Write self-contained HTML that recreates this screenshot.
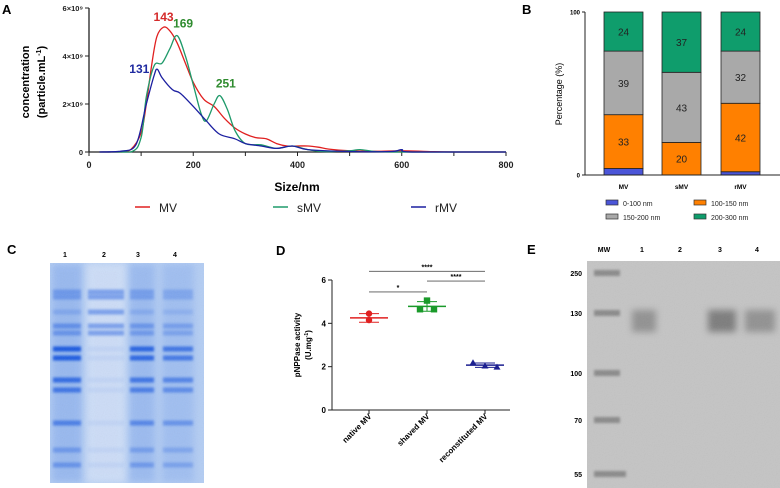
<!DOCTYPE html>
<html><head><meta charset="utf-8"><style>
html,body{margin:0;padding:0;background:#fff;}
svg{display:block;font-family:"Liberation Sans",Arial,sans-serif;}
</style></head><body>
<svg id="fig" width="780" height="488" viewBox="0 0 780 488" xmlns="http://www.w3.org/2000/svg">
<defs>
<filter id="blur1" x="-20%" y="-50%" width="140%" height="200%"><feGaussianBlur stdDeviation="1.2"/></filter>
<filter id="blur3" x="-30%" y="-80%" width="160%" height="260%"><feGaussianBlur stdDeviation="3.5"/></filter>
<filter id="noise" x="0" y="0" width="1" height="1"><feTurbulence type="fractalNoise" baseFrequency="0.9" numOctaves="2" result="n"/><feColorMatrix type="saturate" values="0"/><feComponentTransfer><feFuncA type="linear" slope="0.12"/></feComponentTransfer></filter>
<clipPath id="clipC"><rect x="50" y="263" width="154" height="220"/></clipPath>
<clipPath id="clipE"><rect x="587" y="261" width="193" height="227"/></clipPath>
</defs>
<g id="panelA"></g>
<g id="panelB"></g>
<g id="panelC"></g>
<g id="panelD"></g>
<g id="panelE"></g>
</svg>
<script>
// ---------- Panel A data ----------
const aXTicks = [0,200,400,600,800];
const aYTicks = [0,2,4,6];
const aYTickLabels = ["0","2×10⁹","4×10⁹","6×10⁹"];
const mvSizes = [20,60,80,100,110,120,130,143,155,169,185,200,220,240,260,280,300,320,340,360,380,400,420,440,460,500,550,600,650,700,800];
const mvValues = [0,0,0.1,0.8,2.0,3.6,4.8,5.2,5.05,4.55,3.7,2.9,2.2,1.9,1.4,1.0,0.75,0.6,0.55,0.35,0.25,0.25,0.25,0.2,0.12,0.05,0.03,0.05,0.02,0,0];
const smvSizes = [20,80,100,110,125,140,155,169,185,200,215,225,240,251,265,280,300,330,360,390,420,450,500,520,550,600,800];
const smvValues = [0,0,0.6,2.3,3.6,3.7,4.3,4.85,4.0,2.8,1.6,1.3,2.0,2.35,1.8,0.9,0.35,0.3,0.15,0.25,0.1,0.02,0.05,0.1,0.02,0,0];
const rmvSizes = [20,60,90,110,125,131,140,160,175,200,225,250,280,300,330,360,390,420,500,580,600,620,800];
const rmvValues = [0,0.03,0.3,2.0,3.2,3.45,3.1,2.6,2.45,1.9,1.3,0.75,0.55,0.35,0.25,0.15,0.25,0.1,0.02,0.02,0.1,0,0];
const aPeakLabels = [["143",143,5.2,"#d42a2a",0,-6],["169",169,4.85,"#2e8b2e",6,-8],["131",131,3.45,"#1f2aa0",-18,4],["251",251,2.35,"#2e8b2e",6,-8]];

// ---------- Panel B data ----------
const bCategories = ["MV","sMV","rMV"];
const bSeriesNames = ["0-100 nm","100-150 nm","150-200 nm","200-300 nm"];
const bSeries0 = [4,0,2];
const bSeries1 = [33,20,42];
const bSeries2 = [39,43,32];
const bSeries3 = [24,37,24];
const bYTicks = [0,100];

// ---------- Panel D data ----------
const dCategories = ["native MV","shaved MV","reconstituted MV"];
const dPoints0 = [4.45,4.15];
const dPoints1 = [5.05,4.65,4.65];
const dPoints2 = [2.18,2.03,1.98];
const dMeans = [4.25,4.78,2.07];
const dSD = [0.2,0.22,0.1];
const dYTicks = [0,2,4,6];
const dSig = [[0,2,"****",6.4],[1,2,"****",5.95],[0,1,"*",5.45]];

// ---------- Panel E data ----------
const eMWLabels = ["250","130","100","70","55"];
const eLaneLabels = ["MW","1","2","3","4"];

const NS="http://www.w3.org/2000/svg";
function mk(parent,tag,attrs,text){const e=document.createElementNS(NS,tag);for(const k in attrs)e.setAttribute(k,attrs[k]);if(text!==undefined)e.textContent=text;parent.appendChild(e);return e;}
function smooth(pts){let d="M"+pts[0][0]+","+pts[0][1];for(let i=0;i<pts.length-1;i++){const p0=pts[Math.max(0,i-1)],p1=pts[i],p2=pts[i+1],p3=pts[Math.min(pts.length-1,i+2)];const c1x=p1[0]+(p2[0]-p0[0])/6,c1y=p1[1]+(p2[1]-p0[1])/6,c2x=p2[0]-(p3[0]-p1[0])/6,c2y=p2[1]-(p3[1]-p1[1])/6;d+=" C"+c1x.toFixed(1)+","+Math.min(c1y,152).toFixed(1)+" "+c2x.toFixed(1)+","+Math.min(c2y,152).toFixed(1)+" "+p2[0].toFixed(1)+","+p2[1].toFixed(1);}return d;}

// ===== Panel A =====
(function(){
const g=document.getElementById('panelA');
const X=v=>89+v*(506-89)/800, Y=v=>152-v*(152-8)/6;
let t=mk(g,'text',{x:2,y:14,'font-size':13,'font-weight':'bold'},"A");

let ax=mk(g,'line',{x1:89,y1:152,x2:506,y2:152,stroke:'#222','stroke-width':1.3});

let ay=mk(g,'line',{x1:89,y1:8,x2:89,y2:152,stroke:'#222','stroke-width':1.3});

for(let v=0;v<=800;v+=100){const tk=mk(g,'line',{x1:X(v),y1:152,x2:X(v),y2:156,stroke:'#222','stroke-width':1});}
aXTicks.forEach(v=>{const l=mk(g,'text',{x:X(v),y:168,'font-size':9,'font-weight':'bold','text-anchor':'middle',fill:'#222'},String(v));});
aYTicks.forEach((v,i)=>{const tk=mk(g,'line',{x1:85,y1:Y(v),x2:89,y2:Y(v),stroke:'#222','stroke-width':1});
const l=mk(g,'text',{x:83,y:Y(v)+3,'font-size':7.5,'font-weight':'bold','text-anchor':'end',fill:'#222'},aYTickLabels[i]);});
let yt=mk(g,'text',{transform:'translate(29,82) rotate(-90)','font-size':11,'font-weight':'bold','text-anchor':'middle'},"concentration");

let yt2=mk(g,'text',{transform:'translate(45,82) rotate(-90)','font-size':11,'font-weight':'bold','text-anchor':'middle'});

mk(yt2,'tspan',{},"(particle.mL");mk(yt2,'tspan',{'font-size':7,dy:-4},"-1");mk(yt2,'tspan',{dy:4},")");
let xt=mk(g,'text',{x:297,y:191,'font-size':12,'font-weight':'bold','text-anchor':'middle'},"Size/nm");

const series=[[mvSizes,mvValues,'#e02020','mv-line'],[smvSizes,smvValues,'#1f9a6a','smv-line'],[rmvSizes,rmvValues,'#1b1fa0','rmv-line']];
series.forEach(s=>{const pts=s[0].map((x,i)=>[X(x),Y(s[1][i])]);const p=mk(g,'path',{d:smooth(pts),fill:'none',stroke:s[2],'stroke-width':1.3});});
aPeakLabels.forEach(a=>{const l=mk(g,'text',{x:X(a[1])+a[4],y:Y(a[2])+a[5],'font-size':12,'font-weight':'bold','text-anchor':'middle',fill:a[3]},a[0]);});
const leg=[[135,'#e02020',"MV"],[273,'#1f9a6a',"sMV"],[411,'#1b1fa0',"rMV"]];
leg.forEach(L=>{const gg=mk(g,'g',{});
mk(gg,'line',{x1:L[0],y1:207,x2:L[0]+15,y2:207,stroke:L[1],'stroke-width':1.5});
mk(gg,'text',{x:L[0]+24,y:212,'font-size':12,fill:'#222'},L[2]);});
})();

// ===== Panel B =====
(function(){
const g=document.getElementById('panelB');
const Y=v=>175-v*(175-12)/100;
const barX=[604,662,721], bw=39;
const cols=['#4b55d8','#ff8000','#a9a9a9','#0f9d6c'];
const S=[bSeries0,bSeries1,bSeries2,bSeries3];
let t=mk(g,'text',{x:522,y:14,'font-size':13,'font-weight':'bold'},"B");
bCategories.forEach((c,i)=>{let acc=0;S.forEach((s,j)=>{const v=s[i];if(v>0){const r=mk(g,'rect',{x:barX[i],y:Y(acc+v),width:bw,height:Y(acc)-Y(acc+v),fill:cols[j],stroke:'#222','stroke-width':0.8});
if(v>=10){const l=mk(g,'text',{x:barX[i]+bw/2,y:(Y(acc)+Y(acc+v))/2+4,'font-size':10,'text-anchor':'middle',fill:'#222'},String(v));}}
acc+=v;});
const l=mk(g,'text',{x:barX[i]+bw/2,y:189,'font-size':6.5,'font-weight':'bold','text-anchor':'middle'},c);});
let ay=mk(g,'line',{x1:585,y1:12,x2:585,y2:175,stroke:'#222','stroke-width':1});
let ax=mk(g,'line',{x1:585,y1:175,x2:780,y2:175,stroke:'#222','stroke-width':1});
bYTicks.forEach(v=>{mk(g,'line',{x1:582,y1:Y(v),x2:585,y2:Y(v),stroke:'#222'});const l=mk(g,'text',{x:580,y:Y(v)+2.5,'font-size':6,'font-weight':'bold','text-anchor':'end'},String(v));});
let yt=mk(g,'text',{transform:'translate(562,94) rotate(-90)','font-size':9,'text-anchor':'middle'},"Percentage (%)");
const lp=[[606,204],[694,204],[606,218],[694,218]];
bSeriesNames.forEach((n,j)=>{const gg=mk(g,'g',{});
mk(gg,'rect',{x:lp[j][0],y:lp[j][1]-4,width:12,height:5,fill:cols[j],stroke:'#333','stroke-width':0.7});
mk(gg,'text',{x:lp[j][0]+17,y:lp[j][1]+2,'font-size':7,fill:'#222'},n);});
})();

// ===== Panel C (gel) =====
(function(){
const g=document.getElementById('panelC');
let t=mk(g,'text',{x:7,y:254,'font-size':13,'font-weight':'bold'},"C");
[["1",65],["2",104],["3",138],["4",175]].forEach(L=>{const l=mk(g,'text',{x:L[1],y:257,'font-size':7,'font-weight':'bold','text-anchor':'middle'},L[0]);});
const gel=mk(g,'g',{'clip-path':'url(#clipC)'});
mk(gel,'rect',{x:50,y:263,width:154,height:220,fill:'#b3cdf4'});
const lanes=[[52,82,0.85],[87,125,0.25],[129,155,0.75],[162,194,0.6]];
lanes.forEach(L=>mk(gel,'rect',{x:L[0],y:264,width:L[1]-L[0],height:218,fill:'#7ea5ec',opacity:L[2]*0.6,filter:'url(#blur3)'}));
mk(gel,'rect',{x:86,y:263,width:40,height:220,fill:'#e3ecfb',opacity:0.6,filter:'url(#blur3)'});
const bands=[[292,0.35],[297,0.35],[312,0.2],[326,0.45],[333,0.4],[349,1],[358,0.95],[380,0.8],[390,0.7],[423,0.6],[450,0.35],[465,0.4]];
lanes.forEach((L,li)=>bands.forEach(b=>{let a=Math.min(1,b[1]*L[2]*1.2);if(li===1)a=(b[0]<340)?0.45:0.06;mk(gel,'rect',{x:L[0]+1,y:b[0]-2.5,width:L[1]-L[0]-2,height:5,fill:'#1456e0',opacity:a,filter:'url(#blur1)'});}));
mk(gel,'rect',{x:50,y:263,width:154,height:220,filter:'url(#noise)'});
})();

// ===== Panel D =====
(function(){
const g=document.getElementById('panelD');
const Y=v=>410-v*(410-280)/6; const cx=[369,427,485];
let t=mk(g,'text',{x:276,y:255,'font-size':13,'font-weight':'bold'},"D");
let ay=mk(g,'line',{x1:332,y1:280,x2:332,y2:410,stroke:'#222','stroke-width':1});
let ax=mk(g,'line',{x1:332,y1:410,x2:510,y2:410,stroke:'#222','stroke-width':1});
dYTicks.forEach(v=>{mk(g,'line',{x1:328,y1:Y(v),x2:332,y2:Y(v),stroke:'#222'});const l=mk(g,'text',{x:326,y:Y(v)+3,'font-size':8,'font-weight':'bold','text-anchor':'end'},String(v));});
let yt=mk(g,'text',{transform:'translate(300,345) rotate(-90)','font-size':8,'font-weight':'bold','text-anchor':'middle'},"pNPPase activity");
let yt2=mk(g,'text',{transform:'translate(311,345) rotate(-90)','font-size':8,'font-weight':'bold','text-anchor':'middle'});
mk(yt2,'tspan',{},"(U.mg");mk(yt2,'tspan',{'font-size':5,dy:-3},"-1");mk(yt2,'tspan',{dy:3},")");
const cols=['#e02020','#1a9a2a','#1b1f90'];const P=[dPoints0,dPoints1,dPoints2];
dCategories.forEach((c,i)=>{mk(g,'line',{x1:cx[i],y1:410,x2:cx[i],y2:414,stroke:'#222'});
const l=mk(g,'text',{transform:'translate('+(cx[i]+3)+',417) rotate(-45)','font-size':8,'font-weight':'bold','text-anchor':'end'},c);
const m=mk(g,'line',{x1:cx[i]-19,y1:Y(dMeans[i]),x2:cx[i]+19,y2:Y(dMeans[i]),stroke:cols[i],'stroke-width':1.5});
mk(g,'line',{x1:cx[i],y1:Y(dMeans[i]-dSD[i]),x2:cx[i],y2:Y(dMeans[i]+dSD[i]),stroke:cols[i],'stroke-width':1});
[dMeans[i]-dSD[i],dMeans[i]+dSD[i]].forEach(v=>mk(g,'line',{x1:cx[i]-10,y1:Y(v),x2:cx[i]+10,y2:Y(v),stroke:cols[i],'stroke-width':1}));
const n=P[i].length;P[i].forEach((v,k)=>{const ox=n===2?0:[0,-7,7][k];const px=cx[i]+ox,py=Y(v);let e;
if(i===0)e=mk(g,'circle',{cx:px,cy:py,r:3.2,fill:cols[i]});
else if(i===1)e=mk(g,'rect',{x:px-3.2,y:py-3.2,width:6.4,height:6.4,fill:cols[i]});
else {const ox2=[-12,0,12][k];e=mk(g,'polygon',{points:(cx[i]+ox2)+','+(py-3.5)+' '+(cx[i]+ox2-3.5)+','+(py+2.5)+' '+(cx[i]+ox2+3.5)+','+(py+2.5),fill:cols[i]});}
});});
dSig.forEach(s=>{const y=Y(s[3]);const b=mk(g,'line',{x1:cx[s[0]],y1:y,x2:cx[s[1]],y2:y,stroke:'#555','stroke-width':0.8});
const l=mk(g,'text',{x:(cx[s[0]]+cx[s[1]])/2,y:y-2,'font-size':7,'font-weight':'bold','text-anchor':'middle'},s[2]);});
})();

// ===== Panel E (gel) =====
(function(){
const g=document.getElementById('panelE');
let t=mk(g,'text',{x:527,y:254,'font-size':13,'font-weight':'bold'},"E");
const laneX=[604,642,680,720,757];
eLaneLabels.forEach((n,i)=>{const l=mk(g,'text',{x:laneX[i],y:252,'font-size':7,'font-weight':'bold','text-anchor':'middle'},n);});
const mwY=[273,313,373,420,474];
eMWLabels.forEach((n,i)=>{const l=mk(g,'text',{x:582,y:mwY[i]+3,'font-size':7,'font-weight':'bold','text-anchor':'end'},n);});
const gel=mk(g,'g',{'clip-path':'url(#clipE)'});
mk(gel,'rect',{x:587,y:261,width:193,height:227,fill:'#c4c4c4'});
mwY.forEach((y,i)=>mk(gel,'rect',{x:594,y:y-3,width:i===4?32:26,height:6,fill:'#6a6a6a',opacity:0.65,filter:'url(#blur1)'}));
[[632,24,0.6],[708,28,0.85],[745,30,0.6]].forEach(b=>{mk(gel,'rect',{x:b[0],y:310,width:b[1],height:22,fill:'#707070',opacity:b[2],filter:'url(#blur3)'});});
mk(gel,'rect',{x:587,y:261,width:193,height:227,filter:'url(#noise)'});
})();
</script>
</body></html>
